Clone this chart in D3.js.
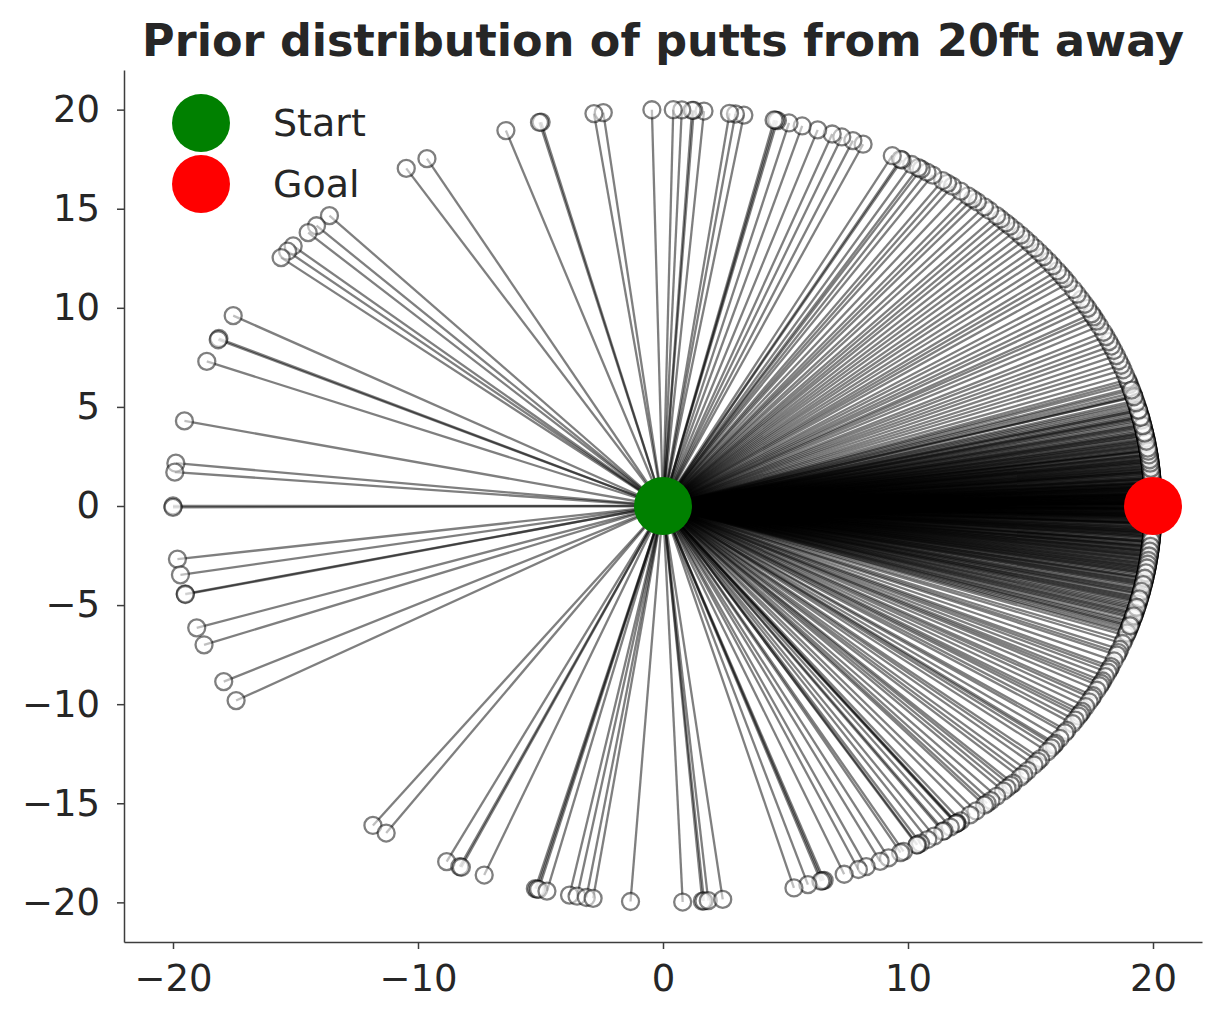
<!DOCTYPE html>
<html lang="en">
    <head>
        <meta charset="utf-8">
        <title>Prior distribution of putts</title>
        <script src="https://cdn.jsdelivr.net/npm/d3@7/dist/d3.min.js" charset="utf-8"></script>
        <style type="text/css">
            body { margin: 0; background: #fff; }
            #chart { width: 1223px; height: 1023px; }
            text { font-family: "DejaVu Sans", sans-serif; fill: #262626; }
            .axis path, .axis line { stroke: #3d3d3d; stroke-width: 1.5; }
        </style>
    </head>
    <body>
        <div id="chart"></div>
        <script>
            // distance of the putt (ft) and where start / goal sit
            var distance = 20;
            var start = [0, 0];
            var goal = [20, 0];

            // angles of the simulated putts, in degrees
            var coreUp = [0.05, 0.12, 0.18, 0.22, 0.27, 0.33, 0.38, 0.41, 0.46, 0.51, 0.58, 0.63, 0.71, 0.79,
                0.84, 0.88, 0.95, 1.04, 1.09, 1.13, 1.19, 1.25, 1.31, 1.38, 1.47, 1.55, 1.6, 1.66, 1.72, 1.77,
                1.84, 1.93, 2.05, 2.11, 2.2, 2.26, 2.34, 2.41, 2.48, 2.57, 2.69, 2.75, 2.83, 2.91, 3.07, 3.18,
                3.3, 3.36, 3.45, 3.62, 3.77, 3.85, 3.94, 4.08, 4.21, 4.43, 4.58, 4.76, 4.97, 5.0, 5.12, 5.38,
                5.55, 5.7, 5.81, 6.02, 6.29, 6.47, 6.6, 6.78, 7.05, 7.2, 7.31, 7.62, 7.88, 8.0, 8.21, 8.53,
                8.8, 8.92, 9.24, 9.5, 9.67, 10.05, 10.3, 10.48, 10.9, 11.1, 11.37, 11.82, 12.0, 12.3, 12.74,
                13.15, 13.4, 13.71, 14.2, 14.5, 14.83, 15.4, 15.95, 16.2, 16.6, 17.3, 17.85, 18.2, 18.6, 19.3];
            var coreDown = [-0.08, -0.15, -0.2, -0.24, -0.31, -0.39, -0.44, -0.47, -0.55, -0.62, -0.74,
                -0.81, -0.88, -0.93, -1.02, -1.1, -1.22, -1.3, -1.34, -1.41, -1.53, -1.6, -1.68, -1.76, -1.89,
                -1.95, -2.02, -2.14, -2.29, -2.43, -2.5, -2.58, -2.71, -2.86, -3.03, -3.1, -3.19, -3.34, -3.52,
                -3.6, -3.7, -3.88, -4.05, -4.2, -4.27, -4.46, -4.68, -4.91, -5.14, -5.3, -5.4, -5.63, -5.92,
                -6.0, -6.18, -6.45, -6.77, -6.9, -7.02, -7.35, -7.66, -7.8, -8.04, -8.37, -8.6, -8.75, -9.12,
                -9.3, -9.56, -9.98, -10.2, -10.42, -10.85, -11.0, -11.3, -11.81, -12.27, -12.6, -12.9, -13.38,
                -13.9, -14.02, -14.55, -15.2, -15.5, -15.86, -16.5, -16.9, -17.1, -17.8, -18.1, -18.45, -19.1,
                -19.8];
            var coreExtra = [1.4, 2.9, 3.5, 4.3, 4.9, 5.25, 5.9, 6.4, 6.9, 7.5, 8.1, 8.7, 9.1, 9.8, 10.2, 10.7,
                11.5, 12.5, 13.0, 13.9, 2.6, 3.2, 4.0, 4.7, 5.45, 6.2, 6.7, 7.4, 7.95, 8.4, 9.4, 10.6, 11.7,
                12.9, 14.0, 15.1, 16.0, 17.0, 0.7, 1.8,
                -1.5, -2.6, -3.4, -3.95, -4.6, -5.2, -5.75, -6.3, -6.6, -7.15, -7.5, -8.2, -8.9, -9.4,
                -9.8, -10.6, -11.15, -11.6, -12.1, -12.8, -13.2, -13.7, -14.3, -15.0, -15.7, -16.3, -17.4,
                -18.7, -2.35, -3.8, -4.4, -5.05, -5.85, -6.55, -7.25, -7.9, -8.45, -9.0, -9.7, -10.5, -11.45,
                -12.45, -13.55, -14.8, -16.1, -0.5, -1.15, -17.6];
            var midUp = [20.1, 20.8, 21.5, 22.3, 23.1, 23.8, 24.5, 25.3, 26.0, 27.0, 27.8, 28.5, 29.0, 29.9,
                30.6, 31.4, 32.3, 33.1, 34.2, 35.0, 35.7, 36.4, 37.3, 38.1, 39.0, 39.8, 40.6, 41.5, 42.3,
                43.1, 44.0, 44.9, 45.6, 46.4, 47.1, 48.2, 49.0, 50.1, 50.8, 51.5, 52.6, 53.8, 54.5, 55.2,
                56.6, 57.4, 58.2, 58.6, 59.5, 60.8, 61.0, 62.1];
            var midDown = [-20.3, -21.2, -21.7, -22.1, -23.0, -23.9, -24.3, -24.8, -25.5, -26.2, -26.6,
                -27.0, -27.7, -28.6, -29.0, -29.6, -30.4, -31.2, -31.6, -32.0, -32.7, -33.3, -34.5, -34.9,
                -35.9, -36.8, -37.1, -37.6, -38.3, -39.6, -40.1, -40.8, -41.9, -42.6, -43.2, -44.4, -44.8,
                -45.4, -46.0, -47.1, -48.0, -48.6, -49.0, -50.3, -51.2, -52.6, -53.1, -53.2, -53.3, -54.1,
                -55.0, -55.2, -56.4, -57.3, -58.3, -58.7, -58.8, -60.6, -61.0, -62.6, -63.7, -65.5, -66.5,
                -68.3, -70.8, -71.0, -71.2, -72.8, -74.5];
            var topArc = [65.9, 67.2, 68.6, 69.8, 71.6, 73.5, 75.1, 76.5, 76.7, 76.9, 80.5, 81.5, 82.2, 85.2,
                86.4, 86.6, 87.8, 88.8, 91.3, 97.0, 98.1];
            var farSide = [104.4, 104.6, 108.7, 118.8, 121.6, 132.9, 135.0, 136.4, 139.0, 140.0, 141.2, 151.3,
                155.0, 155.2, 158.6, 167.6, 173.8, 175.1, 180.0, 180.2, 187.7, 190.0, 192.8, 192.9, 197.9,
                200.5, 206.3, 209.4, 233.7, 235.6, 243.8, 245.5, 245.7, 248.6, 254.9, 255.1, 255.3, 256.3,
                259.0, 259.9, 261.0, 261.8, 266.2, 272.3, 274.6, 274.8, 275.3, 277.0];

            var xTicks = [-20, -10, 0, 10, 20];
            var yTicks = [-20, -15, -10, -5, 0, 5, 10, 15, 20];
            var legendLabels = ["Start", "Goal"];
            var legendColors = ["#008000", "#ff0000"];

            var angles = [].concat(coreUp, coreDown, coreExtra, midUp, midDown, topArc, farSide);
            var putts = angles.map(function(a) {
                var r = a * Math.PI / 180;
                return { x: distance * Math.cos(r), y: distance * Math.sin(r) };
            });

            var margin = { top: 70, right: 21, bottom: 81, left: 124 };
            var width = 1223 - margin.left - margin.right,
                height = 1023 - margin.top - margin.bottom;

            var svg = d3.select("#chart").append("svg")
                .attr("width", 1223)
                .attr("height", 1023);
            var g = svg.append("g")
                .attr("transform", "translate(" + margin.left + "," + margin.top + ")");

            var x = d3.scaleLinear().domain([-22, 22]).range([0, width]);
            var y = d3.scaleLinear().domain([-22, 22]).range([height, 0]);

            // Ejes
            g.append("g")
                .attr("class", "axis")
                .attr("transform", "translate(0," + height + ")")
                .call(d3.axisBottom(x).tickValues(xTicks).tickSize(7).tickPadding(16).tickSizeOuter(0));
            g.append("g")
                .attr("class", "axis")
                .call(d3.axisLeft(y).tickValues(yTicks).tickSize(7).tickPadding(17).tickSizeOuter(0));
            g.selectAll(".axis text")
                .style("font-size", "37px")
                .attr("fill", "#262626");
            g.selectAll(".axis .domain").attr("stroke", "#3d3d3d");
            g.selectAll(".axis .tick line").attr("stroke", "#3d3d3d");

            // Putts
            var shots = g.append("g");
            shots.selectAll("line")
                .data(putts)
                .enter()
                .append("line")
                .attr("x1", x(start[0]))
                .attr("y1", y(start[1]))
                .attr("x2", function(d) { return x(d.x); })
                .attr("y2", function(d) { return y(d.y); })
                .attr("stroke", "#000")
                .attr("stroke-opacity", 0.5)
                .attr("stroke-width", 2.3);
            shots.selectAll("circle")
                .data(putts)
                .enter()
                .append("circle")
                .attr("cx", function(d) { return x(d.x); })
                .attr("cy", function(d) { return y(d.y); })
                .attr("r", 8.5)
                .attr("fill", "#fff")
                .attr("fill-opacity", 0.5)
                .attr("stroke", "#000")
                .attr("stroke-opacity", 0.5)
                .attr("stroke-width", 2.3);

            // Start y Goal
            g.append("circle")
                .attr("cx", x(start[0])).attr("cy", y(start[1]))
                .attr("r", 29).attr("fill", legendColors[0]);
            g.append("circle")
                .attr("cx", x(goal[0])).attr("cy", y(goal[1]))
                .attr("r", 29).attr("fill", legendColors[1]);

            // Leyenda
            var leyenda = svg.selectAll(".leyenda")
                .data(legendLabels)
                .enter()
                .append("g")
                .attr("class", "leyenda")
                .attr("transform", function(d, i) {
                    return "translate(201," + (123 + i * 61) + ")";
                });
            leyenda.append("circle")
                .attr("r", 29)
                .attr("fill", function(d, i) { return legendColors[i]; });
            leyenda.append("text")
                .attr("x", 72)
                .attr("dy", "0.35em")
                .style("font-size", "38px")
                .text(function(d) { return d; });

            // Titulo
            svg.append("text")
                .attr("x", margin.left + width / 2)
                .attr("y", 56)
                .attr("text-anchor", "middle")
                .style("font-size", "44.5px")
                .style("font-weight", "bold")
                .text("Prior distribution of putts from 20ft away");
        </script>
    </body>
</html>
